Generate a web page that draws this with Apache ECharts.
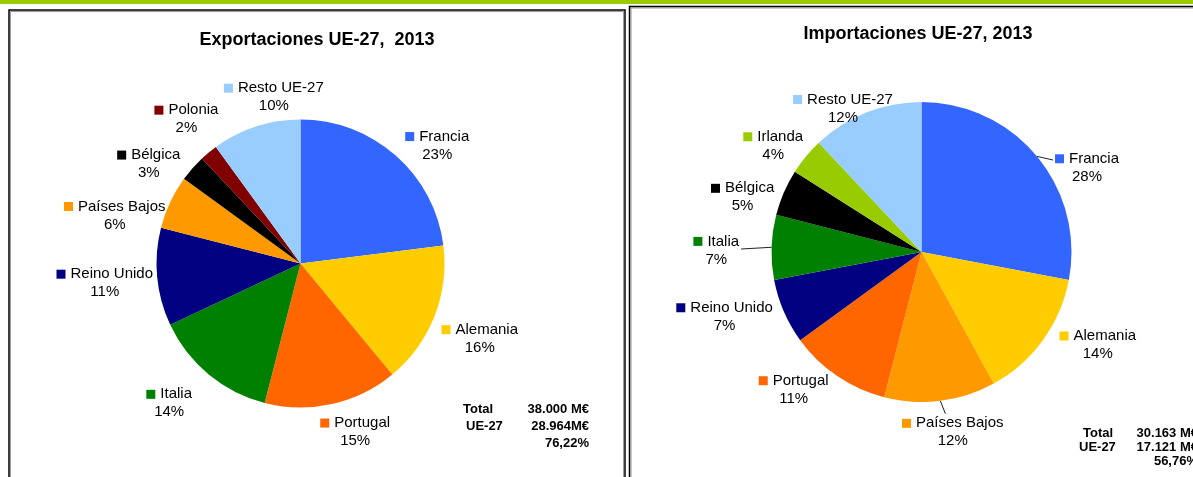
<!DOCTYPE html>
<html>
<head>
<meta charset="utf-8">
<script src="https://cdn.jsdelivr.net/npm/echarts@6/dist/echarts.min.js"></script>
<style>
  html, body { margin: 0; padding: 0; background: #fff; }
  #chart { width: 1193px; height: 477px; }
</style>
</head>
<body>
<div id="chart"></div>
<script>
// data (percent shares of each partner)
const expCategories = ['Francia', 'Alemania', 'Portugal', 'Italia', 'Reino Unido', 'Países Bajos', 'Bélgica', 'Polonia', 'Resto UE-27']
const expValues = [23, 16, 15, 14, 11, 6, 3, 2, 10]
const impCategories = ['Francia', 'Alemania', 'Países Bajos', 'Portugal', 'Reino Unido', 'Italia', 'Bélgica', 'Irlanda', 'Resto UE-27']
const impValues = [28, 14, 12, 11, 7, 7, 5, 4, 12]
const expTotals = ['38.000 M€', '28.964M€', '76,22%']
const impTotals = ['30.163 M€', '17.121 M€', '56,76%']

const countryColors = {
    'Francia': '#3366FF',
    'Alemania': '#FFCC00',
    'Portugal': '#FF6600',
    'Italia': '#008000',
    'Reino Unido': '#000080',
    'Países Bajos': '#FF9900',
    'Bélgica': '#000000',
    'Polonia': '#800000',
    'Irlanda': '#99CC00',
    'Resto UE-27': '#99CCFF',
}

const FONT = '"Liberation Sans", Arial, sans-serif'

// labels in the original were dragged around a bit by hand
const expNudge = {
    'Francia': [16, 19], 'Alemania': [2, 5], 'Portugal': [17, 0], 'Italia': [-19, 4], 'Reino Unido': [2, 1],
    'Países Bajos': [-3, 38], 'Bélgica': [-14, 22], 'Polonia': [2, -4], 'Resto UE-27': [29, 5],
}
const impNudge = {
    'Francia': [19, 37], 'Alemania': [18, -22], 'Países Bajos': [9, 4], 'Portugal': [-22, -18],
    'Reino Unido': [-8, -17], 'Italia': [-27, 4], 'Bélgica': [-4, 21], 'Irlanda': [-3, 14], 'Resto UE-27': [-9, 32],
}

// pie geometry
const pies = [
    { center: [300.5, 263.5], radius: 144, names: expCategories, values: expValues, leaders: [], nudge: expNudge },
    { center: [921.5, 252], radius: 150, names: impCategories, values: impValues, leaders: ['Francia', 'Italia', 'Países Bajos'], nudge: impNudge },
]

function buildRich(names) {
    const rich = {
        g: { width: 5, align: 'center' },
        t: { fontSize: 15, fontFamily: FONT, color: '#000', lineHeight: 18, align: 'center' },
        p: { fontSize: 15, fontFamily: FONT, color: '#000', lineHeight: 18, align: 'center' },
    }
    names.forEach((n, i) => {
        rich['sq' + i] = { width: 9, height: 9, backgroundColor: countryColors[n], align: 'center' }
    })
    return rich
}

// excel-like label placement: box touches a ring just outside the slice
function placeLabel(params) {
    const pie = pies[params.seriesIndex]
    const vals = pie.values
    const name = pie.names[params.dataIndex]
    const total = vals.reduce((a, b) => a + b, 0)
    let cum = 0
    for (let i = 0; i < params.dataIndex; i++) cum += vals[i]
    cum += vals[params.dataIndex] / 2
    const theta = cum / total * Math.PI * 2
    const ux = Math.sin(theta)
    const uy = -Math.cos(theta)
    const w = params.labelRect.width
    const h = params.labelRect.height
    const proj = Math.abs(ux) * w / 2 + Math.abs(uy) * h / 2
    const d = pie.radius + 5 + proj
    const nudge = pie.nudge[name] || [0, 0]
    const x = pie.center[0] + ux * d + nudge[0]
    const y = pie.center[1] + uy * d + nudge[1]
    const res = { x: x, y: y, align: 'center', verticalAlign: 'middle' }
    if (pie.leaders.indexOf(name) >= 0) {
        const ex = pie.center[0] + ux * pie.radius
        const ey = pie.center[1] + uy * pie.radius
        const dx = ex - x
        const dy = ey - y
        const t = Math.min((w / 2 + 2) / Math.max(Math.abs(dx), 1e-6), (h / 2 + 2) / Math.max(Math.abs(dy), 1e-6))
        const nx = x + dx * t
        const ny = y + dy * t
        res.labelLinePoints = [[ex, ey], [nx, ny], [nx, ny]]
    }
    return res
}

function makeSeries(pie) {
    return {
        type: 'pie',
        center: pie.center,
        radius: pie.radius,
        startAngle: 90,
        clockwise: true,
        avoidLabelOverlap: false,
        animation: false,
        silent: true,
        emphasis: { disabled: true },
        itemStyle: { borderWidth: 0 },
        label: {
            show: true,
            position: 'outside',
            formatter: p => `{sq${p.dataIndex}|}{g|}{t|${p.name}}\n{p|${Math.round(p.percent)}%}`,
            rich: buildRich(pie.names),
        },
        labelLine: { show: false, length: 10, length2: 0, lineStyle: { color: '#222', width: 1 } },
        labelLayout: placeLabel,
        data: pie.names.map((n, i) => ({
            name: n,
            value: pie.values[i],
            itemStyle: { color: countryColors[n] },
            labelLine: { show: pie.leaders.indexOf(n) >= 0 },
        })),
    }
}

function boxGraphic(x, y, w, h) {
    return [
        { type: 'rect', shape: { x: x + 1.5, y: y + 1.5, width: w - 3, height: h }, style: { fill: 'none', stroke: '#9a9a9a', lineWidth: 1 }, silent: true },
        { type: 'rect', shape: { x: x, y: y, width: w, height: h }, style: { fill: 'none', stroke: '#000', lineWidth: 1.5 }, silent: true },
    ]
}

function textLine(text, x, y, align, size, bold) {
    return {
        type: 'text', x: x, y: y, silent: true,
        style: { text: text, fill: '#000', font: `${bold ? 'bold ' : ''}${size}px ${FONT}`, align: align, verticalAlign: 'middle' },
    }
}

const chart = echarts.init(document.getElementById('chart'), null, { renderer: 'canvas' })

chart.setOption({
    backgroundColor: '#fff',
    animation: false,
    graphic: [
        { type: 'rect', shape: { x: 0, y: 0, width: 1193, height: 4 }, style: { fill: '#99CC00' }, silent: true },
        ...boxGraphic(9, 10, 616, 500),
        ...boxGraphic(629.5, 6.5, 600, 500),
        textLine('Exportaciones UE-27,  2013', 317, 40, 'center', 18, true),
        textLine('Importaciones UE-27, 2013', 918, 34, 'center', 18, true),
        textLine('Total', 463, 409, 'left', 13, true),
        textLine('UE-27', 466, 426, 'left', 13, true),
        textLine(expTotals[0], 589, 409, 'right', 13, true),
        textLine(expTotals[1], 589, 426, 'right', 13, true),
        textLine(expTotals[2], 589, 443, 'right', 13, true),
        textLine('Total', 1083, 433, 'left', 13, true),
        textLine('UE-27', 1079, 447, 'left', 13, true),
        textLine(impTotals[0], 1198, 433, 'right', 13, true),
        textLine(impTotals[1], 1198, 447, 'right', 13, true),
        textLine(impTotals[2], 1198, 461, 'right', 13, true),
    ],
    series: pies.map(makeSeries),
})
</script>
</body>
</html>
